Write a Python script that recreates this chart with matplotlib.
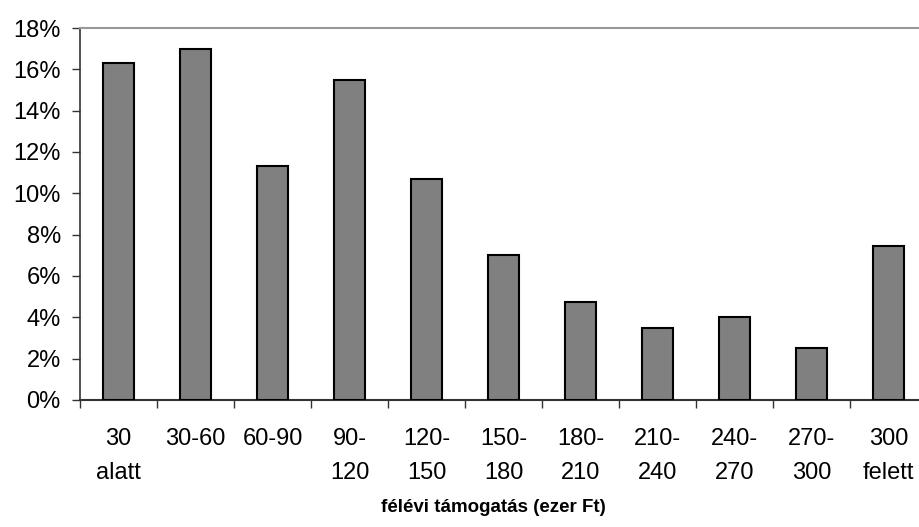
import numpy as np
import matplotlib.pyplot as plt

plt.rcParams['font.family'] = ['Liberation Sans', 'DejaVu Sans']

categories = ['30\nalatt', '30-60', '60-90', '90-\n120', '120-\n150', '150-\n180',
              '180-\n210', '210-\n240', '240-\n270', '270-\n300', '300\nfelett']
shares = [16.3, 17.0, 11.3, 15.5, 10.7, 7.0, 4.75, 3.5, 4.0, 2.5, 7.45]
y_ticks = [0, 2, 4, 6, 8, 10, 12, 14, 16, 18]

fig = plt.figure(figsize=(9.19, 5.27), dpi=100)
ax = fig.add_axes([80 / 919, 127 / 527, 847 / 919, 372 / 527])

x = np.arange(len(categories))
ax.bar(x, shares, width=0.39, color='#808080', edgecolor='black', linewidth=1.5, zorder=3)

ax.set_xlim(-0.5, len(categories) - 0.5)
ax.set_ylim(0, 18)
ax.set_yticks(y_ticks)
ax.set_yticklabels([f'{v}%' for v in y_ticks])

# labels at the bar centres, tick marks on the category borders
ax.set_xticks(x)
ax.set_xticklabels(categories, linespacing=1.65)
ax.set_xticks(np.arange(len(categories)) - 0.5, minor=True)
ax.tick_params(axis='x', which='major', length=0, pad=20.5)
ax.tick_params(axis='x', which='minor', length=5.8, width=1, color='#333333', direction='out')
ax.tick_params(axis='y', length=5.8, width=1, color='#333333', direction='out', pad=8)
ax.tick_params(labelsize=17)

ax.spines['right'].set_visible(False)
ax.spines['top'].set_color('#999999')
ax.spines['top'].set_linewidth(1.5)
ax.spines['left'].set_color('#333333')
ax.spines['bottom'].set_color('#333333')
ax.spines['left'].set_linewidth(1.2)
ax.spines['bottom'].set_linewidth(1.5)

fig.text(493 / 919, 1 - 507 / 527, 'félévi támogatás (ezer Ft)', ha='center', va='center',
         fontsize=13.5, fontweight='bold')

fig.savefig('out.png', dpi=100)
